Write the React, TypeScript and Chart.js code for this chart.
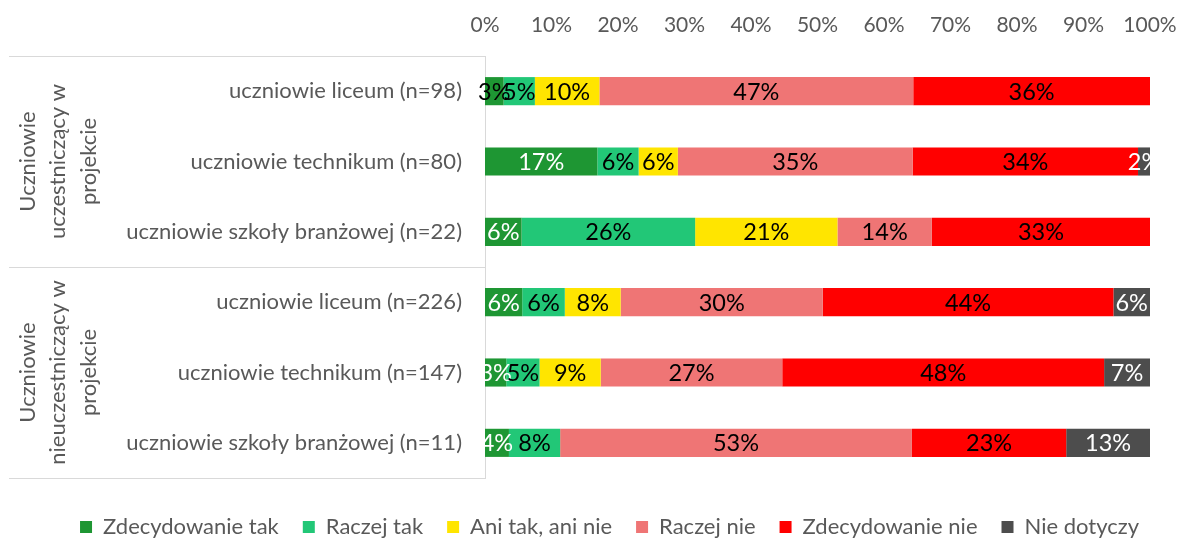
import React, { useEffect, useRef } from 'react';
import { Chart, registerables } from 'chart.js';

Chart.register(...registerables);

// ---------- DATA ----------
const categories = [
  'uczniowie liceum (n=98)',
  'uczniowie technikum (n=80)',
  'uczniowie szkoły branżowej (n=22)',
  'uczniowie liceum (n=226)',
  'uczniowie technikum (n=147)',
  'uczniowie szkoły branżowej (n=11)',
];
const groupLabels = [
  ['Uczniowie', 'uczestniczący w', 'projekcie'],
  ['Uczniowie', 'nieuczestniczący w', 'projekcie'],
];
const groupSizes = [3, 3];
const seriesNames = [
  'Zdecydowanie tak',
  'Raczej tak',
  'Ani tak, ani nie',
  'Raczej nie',
  'Zdecydowanie nie',
  'Nie dotyczy',
];
const zdecydowanieTak = [2.8, 16.9, 5.5, 5.6, 3.2, 3.6];
const raczejTak = [4.7, 6.2, 26.1, 6.4, 5.0, 7.7];
const aniTakAniNie = [9.7, 5.9, 21.4, 8.4, 9.2, 0];
const raczejNie = [47.2, 35.3, 14.2, 30.4, 27.3, 52.9];
const zdecydowanieNie = [35.6, 33.9, 32.8, 43.7, 48.4, 23.2];
const nieDotyczy = [0, 1.8, 0, 5.5, 6.9, 12.6];
const tickValues = [0, 10, 20, 30, 40, 50, 60, 70, 80, 90, 100];

// ---------- STYLE ----------
const FONT = "Lato, 'Liberation Sans', sans-serif";
const TEXT_GRAY = '#595959';
const LINE_GRAY = '#d9d9d9';
const colors = ['#1e9633', '#22c777', '#ffe500', '#ef7575', '#ff0000', '#4d4d4d'];
const labelColors: (string | string[])[] = [
  ['#000000', '#ffffff', '#ffffff', '#ffffff', '#ffffff', '#ffffff'],
  '#000000',
  '#000000',
  '#000000',
  '#000000',
  '#ffffff',
];
const seriesValues = [zdecydowanieTak, raczejTak, aniTakAniNie, raczejNie, zdecydowanieNie, nieDotyczy];

const PLOT_LEFT = 485;
const PLOT_RIGHT_MARGIN = 29;
const PLOT_TOP = 56;
const FS_TICK = 21;
const FS_CAT = 22;
const FS_BAR = 23.5;
const FS_LEGEND = 22;

const barLabelPlugin = {
  id: 'barLabels',
  afterDatasetsDraw(chart: any) {
    const ctx = chart.ctx;
    ctx.save();
    ctx.font = `${FS_BAR}px ${FONT}`;
    ctx.textAlign = 'center';
    ctx.textBaseline = 'middle';
    chart.data.datasets.forEach((ds: any, di: number) => {
      const meta = chart.getDatasetMeta(di);
      if (meta.hidden) return;
      meta.data.forEach((el: any, i: number) => {
        const v = ds.data[i];
        if (!v) return;
        const lc = labelColors[di];
        ctx.fillStyle = Array.isArray(lc) ? lc[i] : lc;
        const x = (el.x + el.base) / 2;
        ctx.fillText(Math.round(v) + '%', x, el.y + 1);
      });
    });
    ctx.restore();
  },
};

const groupPlugin = {
  id: 'groupAxis',
  afterLayout(chart: any) {
    const lg = chart.legend;
    if (lg) {
      lg.top += 14;
      lg.bottom += 14;
      lg.left += 20;
      lg.right += 20;
    }
  },
  afterDraw(chart: any) {
    const ctx = chart.ctx;
    const y = chart.scales.y;
    const area = chart.chartArea;
    const step = y.getPixelForValue(1) - y.getPixelForValue(0);
    const lines = [area.top];
    let idx = 0;
    const centers: number[] = [];
    groupSizes.forEach((n) => {
      const start = y.getPixelForValue(idx) - step / 2;
      const end = y.getPixelForValue(idx + n - 1) + step / 2;
      centers.push((start + end) / 2);
      lines.push(end);
      idx += n;
    });
    ctx.save();
    ctx.strokeStyle = LINE_GRAY;
    ctx.lineWidth = 1;
    lines.forEach((ly) => {
      const yy = Math.round(ly) + 0.5;
      ctx.beginPath();
      ctx.moveTo(9, yy);
      ctx.lineTo(area.left, yy);
      ctx.stroke();
    });
    ctx.fillStyle = TEXT_GRAY;
    ctx.font = `${FS_CAT}px ${FONT}`;
    ctx.textAlign = 'center';
    ctx.textBaseline = 'middle';
    groupLabels.forEach((g, gi) => {
      ctx.save();
      ctx.translate(58, centers[gi]);
      ctx.rotate(-Math.PI / 2);
      const lh = 30.5;
      g.forEach((t, li) => {
        ctx.fillText(t, 0, (li - (g.length - 1) / 2) * lh);
      });
      ctx.restore();
    });
    ctx.restore();
  },
};

export default function App() {
  const canvasRef = useRef<HTMLCanvasElement | null>(null);

  useEffect(() => {
    document.body.style.margin = '0';
    const canvas = canvasRef.current;
    if (!canvas) return;
    const chart = new Chart(canvas, {
      type: 'bar',
      data: {
        labels: categories,
        datasets: seriesNames.map((name, i) => ({
          label: name,
          data: seriesValues[i],
          backgroundColor: colors[i],
          borderWidth: 0,
          barPercentage: 0.4,
          categoryPercentage: 1,
        })),
      },
      options: {
        indexAxis: 'y',
        responsive: false,
        animation: false,
        devicePixelRatio: 1,
        layout: { padding: { left: 0, right: 0, top: 0, bottom: 8 } },
        scales: {
          x: {
            position: 'top',
            stacked: true,
            min: 0,
            max: 100,
            grid: { display: false, drawTicks: false },
            border: { display: false },
            afterBuildTicks: (s: any) => {
              s.ticks = tickValues.map((v) => ({ value: v }));
            },
            ticks: {
              color: TEXT_GRAY,
              font: { family: FONT, size: FS_TICK },
              padding: 18,
              maxRotation: 0,
              autoSkip: false,
              callback: (v: any) => v + '%',
            },
            afterFit: (s: any) => {
              s.height = PLOT_TOP;
              s.paddingRight = PLOT_RIGHT_MARGIN;
            },
          },
          y: {
            stacked: true,
            grid: { display: false, drawTicks: false },
            border: { display: true, color: LINE_GRAY, width: 1 },
            ticks: {
              color: TEXT_GRAY,
              font: { family: FONT, size: FS_CAT },
              padding: 23,
              autoSkip: false,
            },
            afterFit: (s: any) => {
              s.width = PLOT_LEFT;
            },
          },
        },
        plugins: {
          legend: {
            position: 'bottom',
            labels: {
              boxWidth: 12,
              boxHeight: 12,
              padding: 24,
              color: TEXT_GRAY,
              font: { family: FONT, size: FS_LEGEND },
            },
          },
          tooltip: { enabled: false },
          title: { display: false },
        },
      },
      plugins: [barLabelPlugin, groupPlugin],
    } as any);
    return () => chart.destroy();
  }, []);

  return (
    <div style={{ width: 1179, height: 542 }}>
      <canvas ref={canvasRef} width={1179} height={542} style={{ display: 'block' }} />
    </div>
  );
}
